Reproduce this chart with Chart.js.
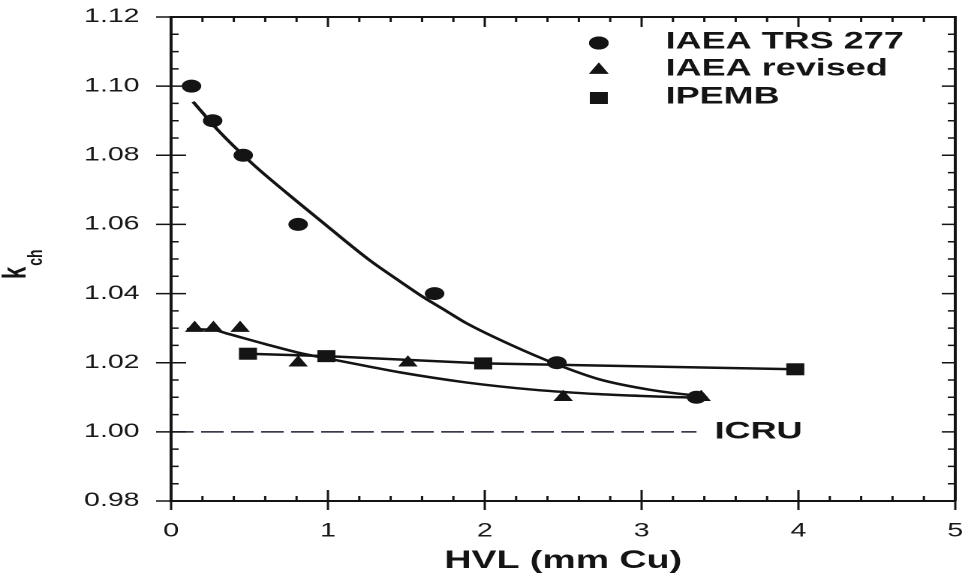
<!DOCTYPE html>
<html lang="en">
<head>
<meta charset="UTF-8">
<title>k_ch versus HVL</title>
<script src="https://cdn.jsdelivr.net/npm/chart.js"></script>
<style>
  body { margin: 0; background: #fff; overflow: hidden; }
  /* plot is laid out narrow, then widened 1.5x sideways */
  .wrap { position: absolute; left: 0; top: 0; width: 645px; height: 582px; transform: scaleX(1.5008); transform-origin: 0 0; }
</style>
</head>
<body>
<div class="wrap"><canvas id="kchChart"></canvas></div>
<script>
  // measured points
  const hvlTrs277 = [0.13, 0.265, 0.46, 0.81, 1.68, 2.46, 3.35];
  const kchTrs277 = [1.100, 1.090, 1.080, 1.060, 1.040, 1.020, 1.010];

  const hvlRevised = [0.15, 0.27, 0.44, 0.81, 1.51, 2.50, 3.38];
  const kchRevised = [1.030, 1.030, 1.030, 1.020, 1.020, 1.010, 1.010];

  const hvlIpemb = [0.49, 0.99, 1.99, 3.98];
  const kchIpemb = [1.0226, 1.0219, 1.0198, 1.0181];

  // fitted curves
  const trsFitHvl = [0.14, 0.30, 0.52, 0.74, 0.95, 1.27, 1.46, 1.59, 1.76, 1.88, 2.16, 2.46, 2.73, 3.05, 3.33, 3.40];
  const trsFitKch = [1.0955, 1.0872, 1.0775, 1.0690, 1.0612, 1.0495, 1.0435, 1.0395, 1.0348, 1.0315, 1.0253, 1.0195, 1.0152, 1.0122, 1.0106, 1.0104];

  const revFitHvl = [0.10, 0.27, 0.36, 0.60, 0.84, 1.00, 1.25, 1.46, 1.88, 2.31, 2.73, 3.05, 3.26, 3.42];
  const revFitKch = [1.0297, 1.0295, 1.0284, 1.0254, 1.0226, 1.0212, 1.0190, 1.0172, 1.0143, 1.0122, 1.0109, 1.0103, 1.0100, 1.0099];

  // ICRU reference level
  const icruHvl = [0, 3.35];
  const icruKch = [1.00, 1.00];

  const xTicks = [0, 1, 2, 3, 4, 5];
  const yTicks = [0.98, 1.00, 1.02, 1.04, 1.06, 1.08, 1.10, 1.12];

  const legendNames = ['IAEA TRS 277', 'IAEA revised', 'IPEMB'];

  const ink = '#141414';
  const face = "'Liberation Sans', Arial, Helvetica, sans-serif";
  const clear = 'rgba(0,0,0,0)';

  const toPts = (xs, ys) => xs.map((x, i) => ({ x: x, y: ys[i] }));

  const markerStyles = [
    { pointStyle: 'circle', radius: 6.5 },
    { pointStyle: 'triangle', radius: 7.5 },
    { pointStyle: 'rect', radius: 8.5 }
  ];

  // box ticks on all four sides, plus top and right frame lines
  const frameTicks = {
    id: 'frameTicks',
    afterDatasetsDraw(chart) {
      const { ctx, chartArea: a, scales: { x, y } } = chart;
      ctx.save();
      ctx.strokeStyle = ink;
      ctx.lineWidth = 2;
      ctx.beginPath();
      ctx.moveTo(a.left, a.top);
      ctx.lineTo(a.right, a.top);
      ctx.lineTo(a.right, a.bottom);
      ctx.stroke();

      ctx.lineWidth = 1.5;
      ctx.beginPath();
      for (let i = 0; i <= 25; i++) {
        const px = x.getPixelForValue(i * 0.2);
        const major = i % 5 === 0;
        ctx.moveTo(px, a.bottom + (major ? 9 : 0));
        ctx.lineTo(px, a.bottom - (major ? 11 : 5));
        ctx.moveTo(px, a.top);
        ctx.lineTo(px, a.top + (major ? 10 : 5));
      }
      for (let i = 0; i <= 28; i++) {
        const py = y.getPixelForValue(0.98 + i * 0.005);
        const major = i % 4 === 0;
        ctx.moveTo(a.left - (major ? 10 : 0), py);
        ctx.lineTo(a.left + (major ? 10 : 5), py);
        ctx.moveTo(a.right, py);
        ctx.lineTo(a.right - (major ? 9 : 5), py);
      }
      ctx.stroke();
      ctx.restore();
    }
  };

  // legend block, ICRU tag and the k_ch axis title
  const annotations = {
    id: 'annotations',
    afterDraw(chart) {
      const { ctx, scales: { x, y } } = chart;
      ctx.save();
      ctx.fillStyle = ink;

      const rows = [43, 70, 98];
      ctx.font = 'bold 24px ' + face;
      ctx.textBaseline = 'middle';
      ctx.textAlign = 'left';
      legendNames.forEach((name, i) => {
        Chart.helpers.drawPoint(ctx, {
          pointStyle: markerStyles[i].pointStyle,
          radius: markerStyles[i].radius,
          rotation: 0,
          borderWidth: 0
        }, 399, rows[i]);
        ctx.fillStyle = ink;
        ctx.fill();
        ctx.fillText(name, 443.5, rows[i] - 1);
      });

      ctx.fillText('ICRU', x.getPixelForValue(3.465), y.getPixelForValue(1.0));

      ctx.translate(17, 279);
      ctx.rotate(-Math.PI / 2);
      ctx.textBaseline = 'alphabetic';
      ctx.font = 'bold 22px ' + face;
      ctx.fillText('k', 0, 0);
      const kw = ctx.measureText('k').width;
      ctx.font = 'bold 14px ' + face;
      ctx.fillText('ch', kw + 1, 11);
      ctx.restore();
    }
  };

  const markerSet = (label, xs, ys, style, line) => ({
    label: label,
    data: toPts(xs, ys),
    pointStyle: style.pointStyle,
    pointRadius: style.radius,
    pointBackgroundColor: ink,
    pointBorderWidth: 0,
    borderColor: ink,
    borderWidth: 2.5,
    showLine: line,
    tension: 0
  });

  const curveSet = (xs, ys) => ({
    data: toPts(xs, ys),
    showLine: true,
    pointRadius: 0,
    borderColor: ink,
    borderWidth: 2.5,
    cubicInterpolationMode: 'monotone'
  });

  new Chart(document.getElementById('kchChart'), {
    type: 'scatter',
    data: {
      datasets: [
        markerSet('IAEA TRS 277', hvlTrs277, kchTrs277, markerStyles[0], false),
        markerSet('IAEA revised', hvlRevised, kchRevised, markerStyles[1], false),
        markerSet('IPEMB', hvlIpemb, kchIpemb, markerStyles[2], true),
        curveSet(trsFitHvl, trsFitKch),
        curveSet(revFitHvl, revFitKch),
        {
          data: toPts(icruHvl, icruKch),
          showLine: true,
          pointRadius: 0,
          borderColor: '#1c1f33',
          borderWidth: 1.5,
          borderDash: [15, 5]
        }
      ]
    },
    options: {
      responsive: true,
      maintainAspectRatio: false,
      animation: false,
      devicePixelRatio: 2,
      layout: { padding: { left: 0, right: 8, top: 17, bottom: 0 } },
      plugins: { legend: { display: false }, tooltip: { enabled: false } },
      scales: {
        x: {
          type: 'linear',
          min: 0, max: 5,
          afterFit: (s) => { s.height = 81; },
          afterBuildTicks: (s) => { s.ticks = xTicks.map(v => ({ value: v })); },
          // invisible tick marks only push the labels down
          grid: { display: true, drawOnChartArea: false, drawTicks: true, tickLength: 19, color: clear, tickColor: clear },
          border: { display: true, color: ink, width: 2 },
          ticks: { color: '#181818', padding: 0, font: { family: face, size: 19 } },
          title: {
            display: true,
            text: 'HVL (mm Cu)',
            color: ink,
            padding: { top: 0, bottom: 6 },
            font: { family: face, size: 25, weight: 'bold' }
          }
        },
        y: {
          type: 'linear',
          min: 0.98, max: 1.12,
          afterFit: (s) => { s.width = 114; },
          afterBuildTicks: (s) => { s.ticks = yTicks.map(v => ({ value: v })); },
          grid: { display: true, drawOnChartArea: false, drawTicks: true, tickLength: 21, color: clear, tickColor: clear },
          border: { display: true, color: ink, width: 2 },
          ticks: {
            color: '#181818', padding: 0,
            font: { family: face, size: 19 },
            callback: (v) => Number(v).toFixed(2)
          }
        }
      }
    },
    plugins: [frameTicks, annotations]
  });
</script>
</body>
</html>
